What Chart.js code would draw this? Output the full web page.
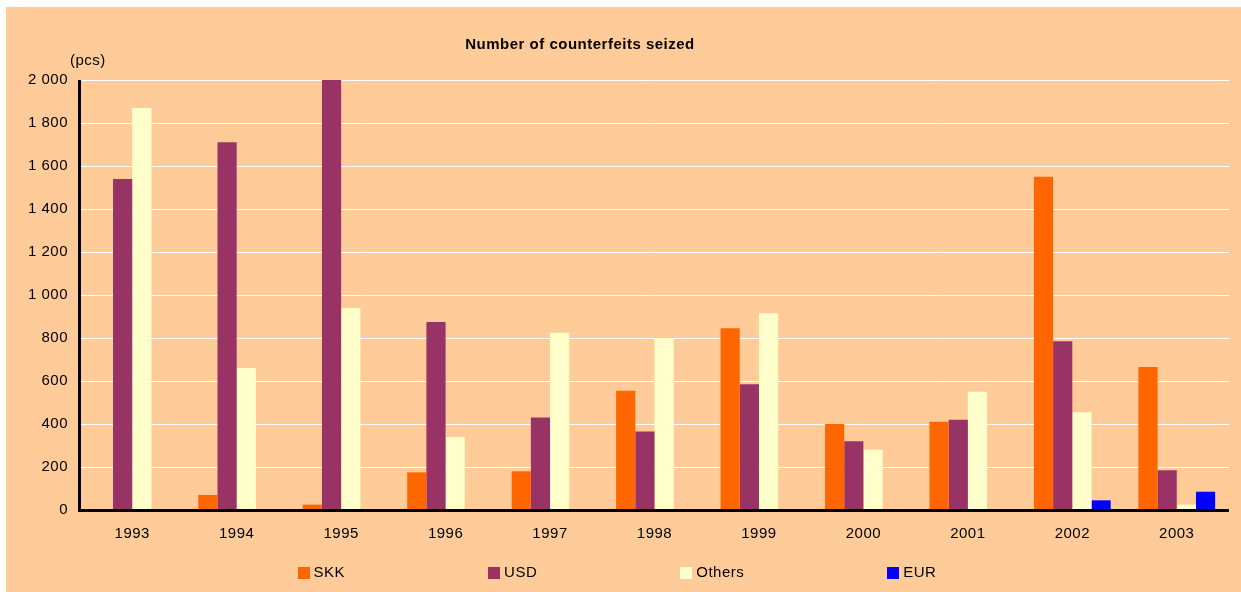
<!DOCTYPE html>
<html>
<head>
<meta charset="utf-8">
<script src="https://cdn.jsdelivr.net/npm/chart.js@4/dist/chart.umd.min.js"></script>
<style>
  html, body { margin: 0; padding: 0; background: #ffffff; }
  #wrap { width: 1241px; height: 592px; position: relative; }
</style>
</head>
<body>
<div id="wrap"><canvas id="c"></canvas></div>
<script>
const categories = ['1993','1994','1995','1996','1997','1998','1999','2000','2001','2002','2003'];
const skk    = [0, 70, 25, 175, 180, 555, 845, 400, 410, 1550, 665];
const usd    = [1540, 1710, 2000, 875, 430, 365, 585, 320, 420, 785, 185];
const others = [1870, 660, 940, 340, 825, 800, 915, 280, 550, 455, 25];
const eur    = [0, 0, 0, 0, 0, 0, 0, 0, 0, 45, 85];
const seriesNames = ['SKK', 'USD', 'Others', 'EUR'];
const yTickValues = [0, 200, 400, 600, 800, 1000, 1200, 1400, 1600, 1800, 2000];
const titleText = 'Number of counterfeits seized';
const unitText = '(pcs)';

const FONT = "Arial, 'Liberation Sans', sans-serif";
const colors = ['#FF6600', '#993366', '#FFFFCC', '#0000FF'];
const SPACING = '0.5px';

const decorPlugin = {
  id: 'decor',
  beforeDraw(chart) {
    const ctx = chart.ctx;
    ctx.save();
    ctx.fillStyle = '#ffffff';
    ctx.fillRect(0, 0, chart.width, chart.height);
    ctx.fillStyle = '#FFCC99';
    ctx.fillRect(6, 7, chart.width - 6, chart.height - 7);
    ctx.restore();
    if ('letterSpacing' in ctx) ctx.letterSpacing = SPACING;
  },
  afterDatasetsDraw(chart) {
    const ctx = chart.ctx;
    const a = chart.chartArea;
    ctx.save();
    ctx.fillStyle = '#000000';
    ctx.fillRect(a.left - 2, a.top, 3, a.bottom - a.top + 2);
    ctx.fillRect(a.left - 2, a.bottom - 1, a.right - a.left + 2, 3);
    ctx.restore();
  },
  afterDraw(chart) {
    const ctx = chart.ctx;
    const a = chart.chartArea;
    ctx.save();
    if ('letterSpacing' in ctx) ctx.letterSpacing = SPACING;
    ctx.fillStyle = '#000000';
    ctx.textBaseline = 'middle';
    ctx.textAlign = 'center';
    ctx.font = 'bold 15px ' + FONT;
    ctx.fillText(titleText, 580, 45);
    ctx.font = '15px ' + FONT;
    ctx.textAlign = 'left';
    ctx.fillText(unitText, a.left - 10, 61);
    // legend
    const box = 12, gapText = 4, gapItem = 143;
    const items = chart.data.datasets.map(d => ({
      label: d.label, color: d.backgroundColor,
      w: box + gapText + ctx.measureText(d.label).width
    }));
    const total = items.reduce((s, it) => s + it.w, 0) + gapItem * (items.length - 1);
    let x = 617 - total / 2;
    const yc = 573;
    items.forEach(it => {
      ctx.fillStyle = it.color;
      ctx.fillRect(Math.round(x), yc - 6, box, box);
      ctx.fillStyle = '#000000';
      ctx.fillText(it.label, x + box + gapText, yc);
      x += it.w + gapItem;
    });
    ctx.restore();
  }
};

const seriesData = [skk, usd, others, eur];
new Chart(document.getElementById('c'), {
  type: 'bar',
  data: {
    labels: categories,
    datasets: seriesNames.map((n, i) => ({
      label: n,
      data: seriesData[i],
      backgroundColor: colors[i],
      borderWidth: 0,
      categoryPercentage: 0.735,
      barPercentage: 1.0
    }))
  },
  options: {
    responsive: true,
    maintainAspectRatio: false,
    animation: false,
    devicePixelRatio: 1,
    layout: { padding: { top: 80, right: 12, bottom: 0, left: 0 } },
    plugins: {
      legend: { display: false },
      title: { display: false },
      tooltip: { enabled: false }
    },
    scales: {
      x: {
        grid: { display: false, drawTicks: false },
        border: { display: false },
        ticks: { color: '#000', font: { family: FONT, size: 15 }, padding: 15, maxRotation: 0 },
        afterFit(s) { s.height = 82; }
      },
      y: {
        min: 0, max: 2000,
        afterBuildTicks(s) { s.ticks = yTickValues.map(v => ({ value: v })); },
        grid: { color: '#FFFFFF', lineWidth: 1, drawTicks: false },
        border: { display: false },
        ticks: {
          color: '#000', font: { family: FONT, size: 15 }, padding: 12,
          callback: v => String(v).replace(/\B(?=(\d{3})+(?!\d))/g, ' ')
        },
        afterFit(s) { s.width = 80; }
      }
    }
  },
  plugins: [decorPlugin]
});
</script>
</body>
</html>
